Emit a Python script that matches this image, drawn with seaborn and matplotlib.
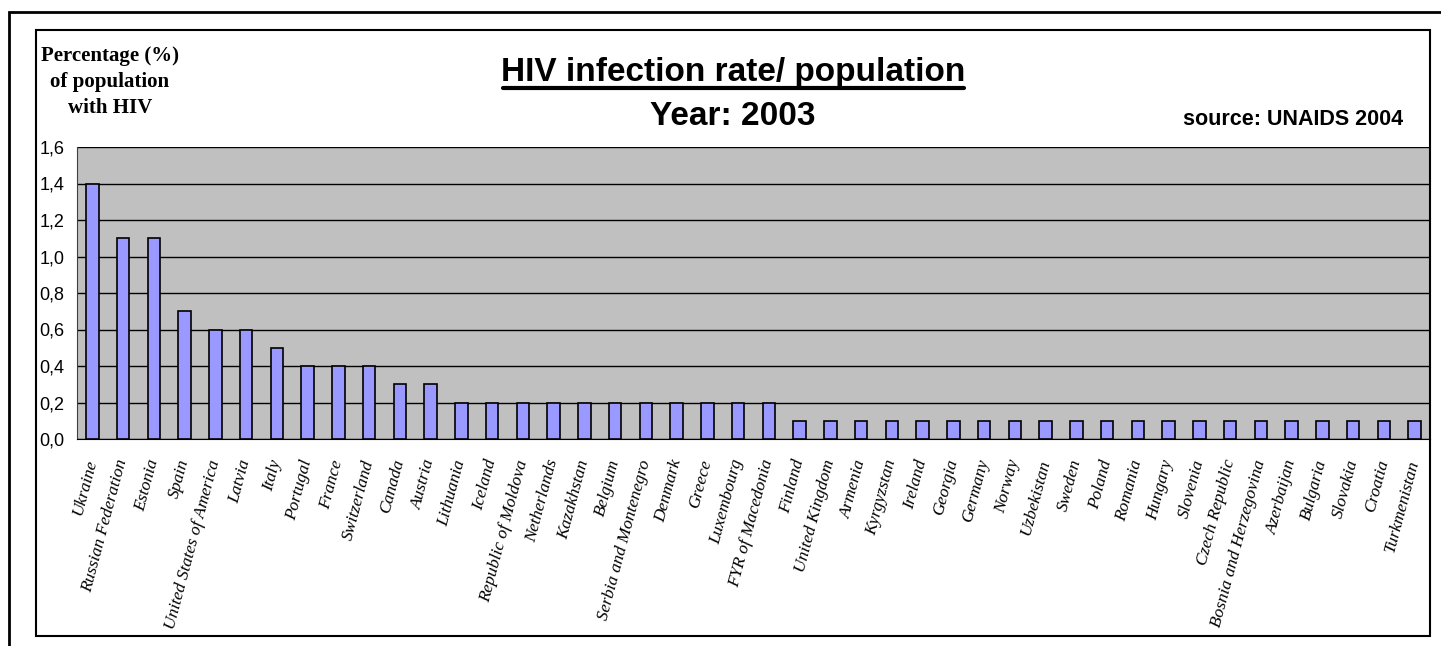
import matplotlib
matplotlib.use("Agg")
import matplotlib.pyplot as plt
import seaborn as sns
import pandas as pd
from matplotlib.patches import Rectangle
from matplotlib.ticker import FuncFormatter

# Data (UNAIDS 2004, year 2003)
countries = [
    "Ukraine", "Russian Federation", "Estonia", "Spain", "United States of America",
    "Latvia", "Italy", "Portugal", "France", "Switzerland", "Canada", "Austria",
    "Lithuania", "Iceland", "Republic of Moldova", "Netherlands", "Kazakhstan",
    "Belgium", "Serbia and Montenegro", "Denmark", "Greece", "Luxembourg",
    "FYR of Macedonia", "Finland", "United Kingdom", "Armenia", "Kyrgyzstan",
    "Ireland", "Georgia", "Germany", "Norway", "Uzbekistan", "Sweden", "Poland",
    "Romania", "Hungary", "Slovenia", "Czech Republic", "Bosnia and Herzegovina",
    "Azerbaijan", "Bulgaria", "Slovakia", "Croatia", "Turkmenistan",
]
rates = [
    1.4, 1.1, 1.1, 0.7, 0.6,
    0.6, 0.5, 0.4, 0.4, 0.4, 0.3, 0.3,
    0.2, 0.2, 0.2, 0.2, 0.2,
    0.2, 0.2, 0.2, 0.2, 0.2,
    0.2, 0.1, 0.1, 0.1, 0.1,
    0.1, 0.1, 0.1, 0.1, 0.1, 0.1, 0.1,
    0.1, 0.1, 0.1, 0.1, 0.1,
    0.1, 0.1, 0.1, 0.1, 0.1,
]
y_ticks = [0.0, 0.2, 0.4, 0.6, 0.8, 1.0, 1.2, 1.4, 1.6]

df = pd.DataFrame({"Country": countries, "Rate": rates})

sns.set_style("white")
plt.rcParams["font.family"] = ["Liberation Sans", "DejaVu Sans"]
plt.rcParams["text.color"] = "black"
plt.rcParams["xtick.color"] = "black"
plt.rcParams["ytick.color"] = "black"
serif = ["Liberation Serif", "DejaVu Serif"]

W, H = 1441, 646
fig = plt.figure(figsize=(W / 100, H / 100), dpi=100)
ax = fig.add_axes([77 / W, 1 - 439 / H, (1430 - 77) / W, (439 - 147) / H])

sns.barplot(data=df, x="Country", y="Rate", color="#9999FF", edgecolor="black",
            linewidth=1.2, width=0.4, saturation=1, ax=ax, zorder=3)

ax.set_facecolor("#C0C0C0")
ax.set_ylim(0, 1.6)
ax.set_xlim(-0.5, len(countries) - 0.5)
ax.set_yticks(y_ticks)
ax.yaxis.set_major_formatter(FuncFormatter(lambda v, p: f"{v:.1f}".replace(".", ",")))
ax.grid(axis="y", color="black", linewidth=1, zorder=1)
ax.set_axisbelow(True)
for s in ["top", "right"]:
    ax.spines[s].set_visible(False)
ax.spines["left"].set_color("#404040")
ax.spines["bottom"].set_color("black")
ax.set_xlabel("")
ax.set_ylabel("")

# category labels, with tick marks between categories
ax.set_xticks(range(len(countries)))
ax.set_xticklabels(countries, rotation=75, ha="right", va="center",
                   rotation_mode="anchor", fontsize=12.5, family=serif, style="italic")
ax.tick_params(axis="x", length=0, pad=15, labelcolor="black")
ax.set_xticks([i + 0.5 for i in range(-1, len(countries))], minor=True)
ax.tick_params(axis="x", which="minor", length=6, width=1, color="black", direction="out")
ax.tick_params(axis="y", length=6, width=1, color="black", labelsize=13, pad=3,
               labelcolor="black")

# titles and notes
fig.text(733 / W, 1 - 81 / H, "HIV infection rate/ population", ha="center", va="baseline",
         fontsize=24, fontweight="bold")
fig.add_artist(plt.Line2D([503 / W, 964 / W], [1 - 88 / H, 1 - 88 / H],
                          color="black", linewidth=3))
fig.text(733 / W, 1 - 125 / H, "Year: 2003", ha="center", va="baseline",
         fontsize=24, fontweight="bold")
fig.text(1403 / W, 1 - 125 / H, "source: UNAIDS 2004", ha="right", va="baseline",
         fontsize=15.5, fontweight="bold")
fig.text(110 / W, 1 - 82 / H, "Percentage (%)\nof population\nwith HIV", ha="center", va="center",
         fontsize=15, fontweight="bold", family=serif, linespacing=1.4)

# frames
fig.add_artist(Rectangle((9 / W, -0.1), 1.2, 1 - 12 / H + 0.1, transform=fig.transFigure,
                         fill=False, edgecolor="black", linewidth=2))
fig.add_artist(Rectangle((36 / W, 1 - 636 / H), (1430 - 36) / W, (636 - 30) / H,
                         transform=fig.transFigure, fill=False, edgecolor="black", linewidth=1.5))

fig.savefig("out.png", dpi=100)
